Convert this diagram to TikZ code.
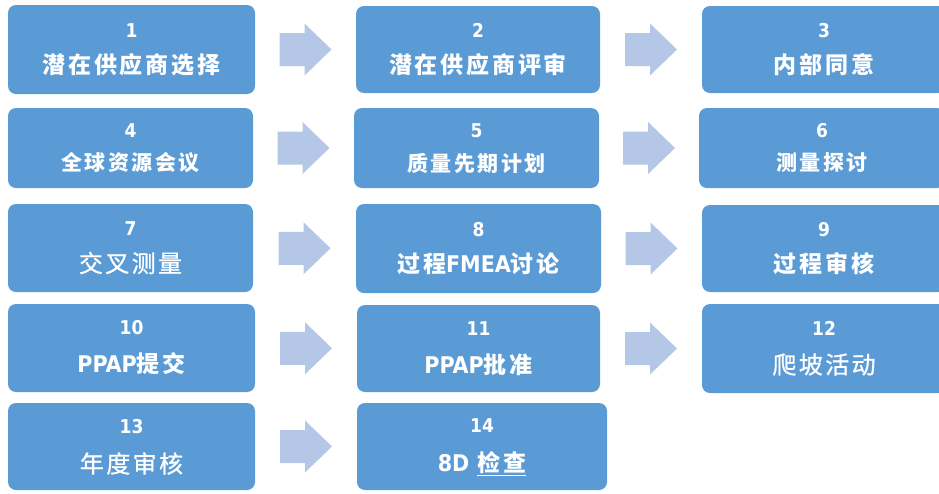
\documentclass[tikz,border=0pt]{standalone}
\usepackage{fontspec}
\usetikzlibrary{calc}
\setmainfont{DejaVu Sans}
\newfontfamily\cjk[LetterSpace=12]{Noto Sans CJK SC}
\newfontfamily\cjkmed[LetterSpace=10,FakeBold=0.8]{Noto Sans CJK SC}
\newfontfamily\numfont{DejaVu Sans Condensed}
\definecolor{boxblue}{HTML}{5B9BD5}
\definecolor{arrowblue}{HTML}{B4C7E7}
\tikzset{
  stepbox/.style={fill=boxblue, draw=none, rounded corners=8pt, inner sep=0pt},
  numtext/.style={text=white, font=\numfont\bfseries\fontsize{19}{19}\selectfont, inner sep=0pt},
  bigtext/.style={text=white, font=\cjkmed\fontsize{24}{24}\selectfont, inner sep=0pt},
  bigbold/.style={text=white, font=\cjk\bfseries\fontsize{23}{23}\selectfont, inner sep=0pt},
  midbold/.style={text=white, font=\cjk\bfseries\fontsize{21}{21}\selectfont, inner sep=0pt},
  pics/blockarrow/.style={code={
    \fill[arrowblue] (-26pt,16.5pt) -- (-1pt,16.5pt) -- (-1pt,26pt) -- (26pt,0pt)
      -- (-1pt,-26pt) -- (-1pt,-16.5pt) -- (-26pt,-16.5pt) -- cycle;
  }}
}
\newcommand{\lat}[1]{{\fontspec{DejaVu Sans Condensed}\bfseries #1}}
\begin{document}
\begin{tikzpicture}[x=1pt,y=-1pt]
\useasboundingbox (0,0) rectangle (939,493);
% boxes: (name, center x, center y, width, height)
\node[stepbox, minimum width=247pt, minimum height=89pt] (b1) at (131.5,49.5) {};
\node[stepbox, minimum width=244pt, minimum height=87pt] (b2) at (478,49.5) {};
\node[stepbox, minimum width=244pt, minimum height=87pt] (b3) at (824,49.5) {};
\node[stepbox, minimum width=245pt, minimum height=80pt] (b4) at (130.5,148) {};
\node[stepbox, minimum width=245pt, minimum height=80pt] (b5) at (476.5,148) {};
\node[stepbox, minimum width=246pt, minimum height=80pt] (b6) at (822,148) {};
\node[stepbox, minimum width=245pt, minimum height=88pt] (b7) at (130.5,248) {};
\node[stepbox, minimum width=245pt, minimum height=89pt] (b8) at (478.5,248.5) {};
\node[stepbox, minimum width=244pt, minimum height=87pt] (b9) at (824,248.5) {};
\node[stepbox, minimum width=247pt, minimum height=88pt] (b10) at (131.5,348) {};
\node[stepbox, minimum width=243pt, minimum height=87pt] (b11) at (478.5,348.5) {};
\node[stepbox, minimum width=244pt, minimum height=89pt] (b12) at (824,348.5) {};
\node[stepbox, minimum width=247pt, minimum height=87pt] (b13) at (131.5,446.5) {};
\node[stepbox, minimum width=250pt, minimum height=87pt] (b14) at (482,446.5) {};
% numbers
\foreach \b/\n/\dy in {b1/1/-19, b2/2/-19, b3/3/-19, b4/4/-17, b5/5/-17, b6/6/-17,
  b7/7/-19, b8/8/-19, b9/9/-19, b10/10/-20, b11/11/-20, b12/12/-20, b13/13/-20, b14/14/-21}{
  \node[numtext] (\b n) at ([yshift=-\dy pt]\b.center) {\n};
}
% labels
\node[bigbold] (t1) at ([yshift=-15pt]b1.center) {潜在供应商选择};
\node[bigbold] (t2) at ([yshift=-15pt]b2.center) {潜在供应商评审};
\node[bigbold] (t3) at ([yshift=-15pt]b3.center) {内部同意};
\node[midbold] (t4) at ([yshift=-15pt]b4.center) {全球资源会议};
\node[midbold] (t5) at ([yshift=-15pt]b5.center) {质量先期计划};
\node[midbold] (t6) at ([yshift=-15pt]b6.center) {测量探讨};
\node[bigtext] (t7) at ([yshift=-15pt]b7.center) {交叉测量};
\node[bigbold] (t8) at ([yshift=-15pt]b8.center) {过程\lat{FMEA}讨论};
\node[bigbold] (t9) at ([yshift=-15pt]b9.center) {过程审核};
\node[bigbold] (t10) at ([yshift=-16pt]b10.center) {\lat{PPAP}提交};
\node[bigbold] (t11) at ([yshift=-16pt]b11.center) {\lat{PPAP}批准};
\node[bigtext] (t12) at ([yshift=-16pt]b12.center) {爬坡活动};
\node[bigtext] (t13) at ([yshift=-17pt]b13.center) {年度审核};
\node[bigbold] (t14) at ([yshift=-17pt]b14.center) {\lat{8D} \underline{检查}};
% block arrows between boxes
\foreach \a/\c in {b1/b2, b2/b3, b4/b5, b5/b6, b7/b8, b8/b9, b10/b11, b11/b12, b13/b14}{
  \coordinate (m\a) at ($(\a.east)!0.5!(\c.west)$);
  \pic at (m\a) {blockarrow};
}
\end{tikzpicture}
\end{document}
